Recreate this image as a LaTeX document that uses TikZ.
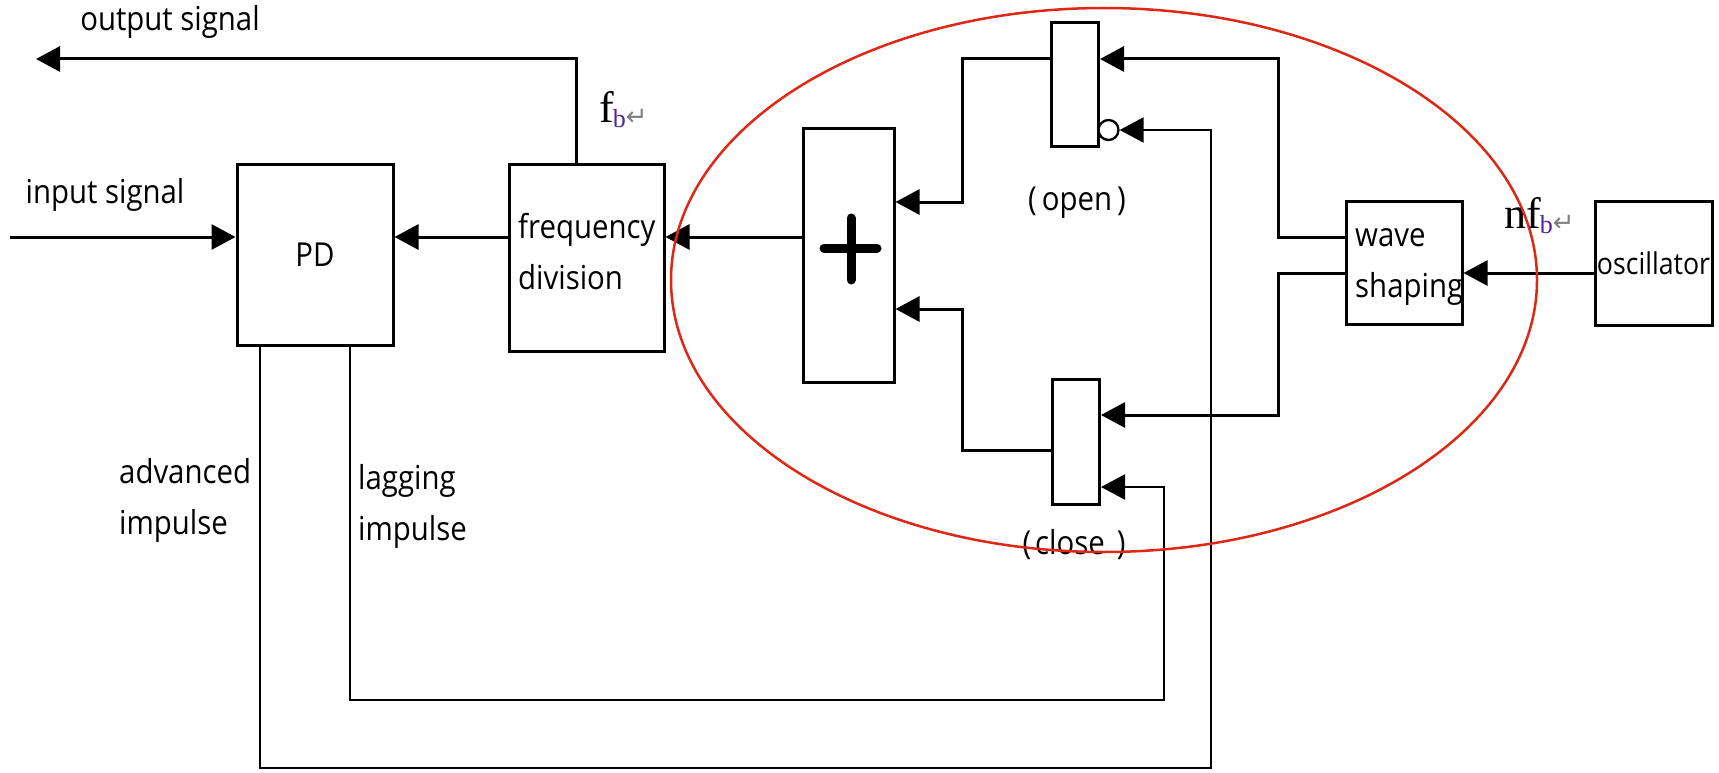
\documentclass[tikz,border=0pt]{standalone}
\usepackage{fontspec}
\setmainfont{Open Sans}[FakeStretch=0.89]
\newfontfamily\serifsym{Liberation Serif}
\newfontfamily\symfnt{DejaVu Sans}
\usetikzlibrary{arrows.meta}
\definecolor{ellred}{RGB}{220,40,20}
\definecolor{fbcol}{RGB}{80,40,150}
\newcommand\lbltxt{\fontsize{33}{51}\selectfont}
\newcommand\fbsym[1]{{\serifsym\fontsize{44}{44}\selectfont #1\kern-1pt\raisebox{-5pt}{\fontsize{26}{26}\selectfont\color{fbcol}b}}\raisebox{-3pt}{\symfnt\fontsize{26}{26}\selectfont\color{gray}↵}}
\begin{document}
\begin{tikzpicture}[x=1pt,y=-1pt,
  box/.style={draw,line width=3pt,rectangle,inner sep=0pt},
  line/.style={line width=3pt},
  fbline/.style={line width=2.3pt},
  tip/.style={-{Triangle[length=24pt,width=25pt]}},
  lbl/.style={inner sep=0pt,font=\lbltxt,align=left}]
\useasboundingbox (0,0) rectangle (1719,773);
\fill[white] (0,0) rectangle (1719,773);

% boxes
\node[box,minimum width=156pt,minimum height=180pt,font=\lbltxt] (PD) at (315,255) {PD};
\node[box,minimum width=155pt,minimum height=186pt] (freq) at (586.5,258) {};
\node[box,minimum width=91pt,minimum height=253pt] (plus) at (848.5,255.5) {};
\node[box,minimum width=47pt,minimum height=124pt] (opengate) at (1075,85) {};
\node[box,minimum width=47pt,minimum height=125pt] (closegate) at (1076,441.5) {};
\node[draw,circle,line width=2.3pt,minimum size=20pt,inner sep=0pt,fill=white] (bubble) at (1108.5,130) {};
\node[box,minimum width=116pt,minimum height=123pt] (wave) at (1404,262.5) {};
\node[box,minimum width=117pt,minimum height=124pt,font=\fontsize{30}{30}\selectfont] (osc) at (1653.5,263) {oscillator};

% plus sign
\draw[line width=9pt,line cap=round] (824,248) -- (877,248) (851,218) -- (851,280);

% texts
\node[lbl,anchor=west] (freqtxt) at (518,252) {frequency\\division};
\node[lbl,anchor=west] (wavetxt) at (1355,267) {wave\\shaping};
\node[lbl] (outtxt) at (170,22) {output signal};
\node[lbl] (intxt) at (105,195) {input signal};
\node[lbl,anchor=west] (advtxt) at (119,500) {advanced\\impulse};
\node[lbl,anchor=west] (lagtxt) at (358,506) {lagging\\impulse};
\node[lbl] (opentxt) at (1077,203) {(\hspace{5pt}open\hspace{5pt})};
\node[lbl] (closetxt) at (1074,545) {(\hspace{4pt}close\hspace{12pt})};
\node[inner sep=0pt,anchor=base west] (fb) at (599,123) {\fbsym{f}};
\node[inner sep=0pt,anchor=base west] (nfb) at (1504,228) {\fbsym{nf}};

% coordinates
\coordinate (inbeg) at (10,237);
\coordinate (outend) at (36,59);
\coordinate (outx) at (576,0);
\coordinate (xsum) at (962,202);
\coordinate (xsum2) at (962,309);
\coordinate (ygc) at (0,450);
\coordinate (wx1) at (1278,59);
\coordinate (wl) at (0,273);
\coordinate (wx2) at (1278,415);
\coordinate (adv) at (260,768);
\coordinate (advr) at (1211,768);
\coordinate (lag) at (350,700);
\coordinate (lagr) at (1164,700);
\coordinate (lagin) at (0,487);

% connectors
\draw[line,tip] (inbeg) -- (inbeg -| PD.west);
\draw[line,tip] (freq.west |- inbeg) -- (PD.east |- inbeg);
\draw[line,tip] (plus.west |- inbeg) -- (freq.east |- inbeg);
\draw[line,tip] (freq.north -| outx) |- (outend);
\draw[line,tip] (opengate.west |- outend) -| (xsum) -- (xsum -| plus.east);
\draw[line,tip] (closegate.west |- ygc) -| (xsum2) -- (xsum2 -| plus.east);
\draw[line,tip] (wave.west |- inbeg) -| (wx1) -- (wx1 -| opengate.east);
\draw[line,tip] (wave.west |- wl) -| (wx2) -- (wx2 -| closegate.east);
\draw[line,tip] (osc.west |- wl) -- (wave.east |- wl);
\draw[fbline,tip] (PD.south -| adv) -- (adv) -- (advr) |- (bubble.east);
\draw[fbline,tip] (PD.south -| lag) -- (lag) -- (lagr) |- (lagin -| closegate.east);

% red ellipse
\draw[ellred,line width=2.5pt] (1104,280) ellipse [x radius=433pt, y radius=272pt];
\end{tikzpicture}
\end{document}
